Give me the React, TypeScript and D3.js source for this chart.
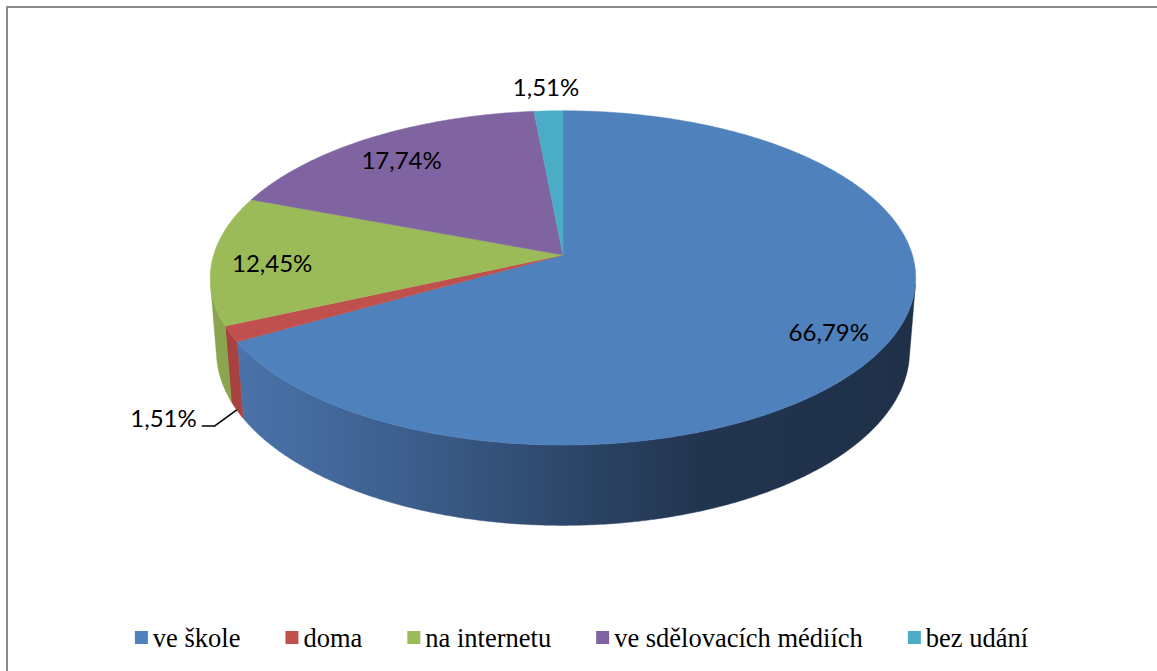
import React, { useMemo } from 'react';
import * as d3 from 'd3';

// ---- data ----
const categories = ['ve škole', 'doma', 'na internetu', 've sdělovacích médiích', 'bez udání'];
const values = [66.79, 1.51, 12.45, 17.74, 1.51];
const valueLabels = ['66,79%', '1,51%', '12,45%', '17,74%', '1,51%'];
const topColors = ['#4f81bd', '#c0504d', '#9bbb59', '#8064a2', '#4bacc6'];
const wallColors = ['url(#blueWall)', '#a7423f', '#89a64e', '#6a5488', '#3e91a7'];

// ---- layout ----
const W = 1157;
const H = 671;
const CX = 563;
const CY = 255;
const F = 2250;
const D0 = 6.44;
const TILT = (28 * Math.PI) / 180;
const DEPTH = 0.24;
const LABEL_R = 0.83;

function project(theta: number, r: number, y: number): [number, number] {
  const x = r * Math.sin(theta);
  const z = -r * Math.cos(theta);
  const D = D0 - (z * Math.cos(TILT) + y * Math.sin(TILT));
  const v = ((-y * Math.cos(TILT) + z * Math.sin(TILT)) * F) / D;
  return [CX + (x * F) / D, CY + v];
}

function arcPoints(a0: number, a1: number, r: number, y: number): [number, number][] {
  const n = Math.max(2, Math.ceil(Math.abs(a1 - a0) / (Math.PI / 360)));
  return d3.range(n + 1).map((i) => project(a0 + ((a1 - a0) * i) / n, r, y));
}

const line = d3.line<[number, number]>();

const legendFont = "26.5px 'Liberation Serif'";
function measure(text: string): number {
  const ctx = document.createElement('canvas').getContext('2d');
  if (!ctx) return text.length * 12;
  ctx.font = legendFont;
  return ctx.measureText(text).width;
}

export default function App() {
  const arcs = useMemo(
    () =>
      d3
        .pie<number>()
        .sort(null)
        .startAngle(0)
        .endAngle(2 * Math.PI)(values),
    []
  );

  const tMin = Math.acos(-1 / (D0 * Math.cos(TILT)));
  const tMax = 2 * Math.PI - tMin;

  const walls = arcs
    .map((a, i) => {
      const b0 = Math.max(a.startAngle, tMin);
      const b1 = Math.min(a.endAngle, tMax);
      if (b1 <= b0) return null;
      const top = arcPoints(b0, b1, 1, 0);
      const bot = arcPoints(b1, b0, 1, -DEPTH);
      return { i, d: line([...top, ...bot]) + 'Z' };
    })
    .filter(Boolean) as { i: number; d: string }[];

  const tops = arcs.map((a, i) => {
    const pts = [project(0, 0, 0), ...arcPoints(a.startAngle, a.endAngle, 1, 0)];
    return { i, d: line(pts) + 'Z' };
  });

  const labels = arcs.map((a, i) => {
    const mid = (a.startAngle + a.endAngle) / 2;
    const small = values[i] < 5;
    if (!small) {
      const [x, y] = project(mid, LABEL_R, 0);
      return { i, x, y: y + 13, anchor: 'middle', leader: null as null | string };
    }
    if (Math.cos(mid) > 0) {
      const [x, y] = project(mid, 1.19, 0);
      return { i, x, y: y + 9, anchor: 'middle', leader: null };
    }
    const anchorPt = project(mid, 1, -DEPTH);
    const elbow: [number, number] = [anchorPt[0] - 22, anchorPt[1] + 16];
    const end: [number, number] = [elbow[0] - 13, elbow[1]];
    return {
      i,
      x: end[0] - 5,
      y: elbow[1] + 1,
      anchor: 'end',
      leader: line([anchorPt, elbow, end]) as string,
    };
  });

  const legend = useMemo(() => {
    const sq = 13;
    const gapText = 5;
    const gapItem = 45;
    const widths = categories.map((c) => measure(c));
    const total =
      widths.reduce((s, w) => s + sq + gapText + w, 0) + gapItem * (categories.length - 1);
    let x = 581.5 - total / 2;
    return categories.map((c, i) => {
      const item = { c, i, x };
      x += sq + gapText + widths[i] + gapItem;
      return item;
    });
  }, []);

  return (
    <svg
      width={W}
      height={H}
      style={{ position: 'absolute', left: 0, top: 0, background: '#fff' }}
    >
      <defs>
        <linearGradient id="blueWall" gradientUnits="userSpaceOnUse" x1={230} y1={0} x2={920} y2={0}>
          <stop offset="0%" stopColor="#4b74ab" />
          <stop offset="25%" stopColor="#3d5f8e" />
          <stop offset="48%" stopColor="#2d486b" />
          <stop offset="68%" stopColor="#22354f" />
          <stop offset="100%" stopColor="#1f3048" />
        </linearGradient>
      </defs>
      <rect x={7} y={7} width={1200} height={700} fill="#fff" stroke="#8a8a8a" strokeWidth={2} />
      {walls.map((w) => (
        <path
          key={'w' + w.i}
          d={w.d}
          fill={wallColors[w.i]}
          stroke={wallColors[w.i]}
          strokeWidth={0.5}
        />
      ))}
      {tops.map((t) => (
        <path key={'t' + t.i} d={t.d} fill={topColors[t.i]} stroke={topColors[t.i]} strokeWidth={0.5} />
      ))}
      {labels.map((l) => (
        <g key={'l' + l.i}>
          {l.leader && <path d={l.leader} fill="none" stroke="#000" strokeWidth={1.5} />}
          <text
            x={l.x}
            y={l.y}
            textAnchor={l.anchor as any}
            fontFamily="Lato, 'Open Sans', sans-serif"
            fontSize={24}
            fill="#000"
          >
            {valueLabels[l.i]}
          </text>
        </g>
      ))}
      {legend.map((it) => (
        <g key={'g' + it.i}>
          <rect x={it.x} y={631} width={13} height={13} fill={topColors[it.i]} />
          <text
            x={it.x + 18}
            y={647}
            fontFamily="'Liberation Serif', 'Times New Roman', serif"
            fontSize={26.5}
            fill="#000"
          >
            {it.c}
          </text>
        </g>
      ))}
    </svg>
  );
}
